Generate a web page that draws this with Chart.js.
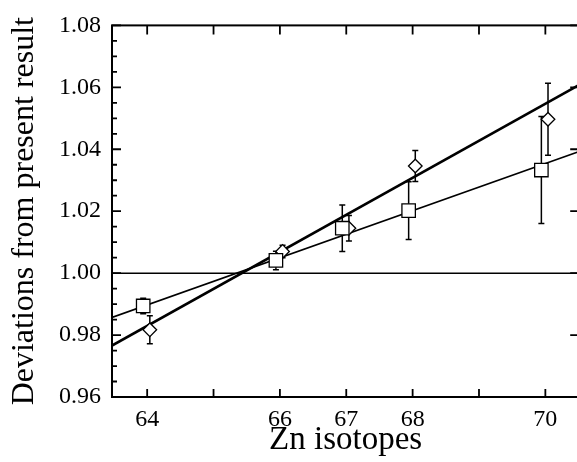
<!DOCTYPE html>
<html>
<head>
<meta charset="utf-8">
<script src="https://cdn.jsdelivr.net/npm/chart.js@4/dist/chart.umd.min.js"></script>
<style>
  html, body { margin: 0; padding: 0; background: #fff; overflow: hidden; }
  #wrap { width: 590px; height: 462px; }
</style>
</head>
<body>
<div id="wrap"><canvas id="c" width="590" height="462"></canvas></div>
<script>
// Zn isotope mass numbers and tick marks on the x axis
const isotopes = [64, 66, 67, 68, 70];
const xTickValues = [64, 65, 66, 67, 68, 69, 70];
const yTickValues = [0.96, 0.98, 1.00, 1.02, 1.04, 1.06, 1.08];

// Squares: deviation ratios and their uncertainties
const squareValues = [0.9894, 1.0041, 1.0145, 1.0202, 1.0333];
const squareErrors = [0.0025, 0.0030, 0.0075, 0.0093, 0.0173];
// Diamonds: deviation ratios and their uncertainties
const diamondValues = [0.9817, 1.0070, 1.0145, 1.0346, 1.0497];
const diamondErrors = [0.0045, 0.0020, 0.0041, 0.0050, 0.0116];

// small horizontal dodge so the two series do not overlap
const squareDodge = -0.06;
const diamondDodge = 0.04;

// axis range
const xRange = [63.47, 70.51];
const yRange = [0.96, 1.08];

// straight-line fits through each series (end points at the axis limits)
const squareFit = [0.9857, 1.0393];
const diamondFit = [0.9766, 1.0608];
const unity = 1.00;

const serif = "'Liberation Serif', 'Times New Roman', serif";

const squarePts = isotopes.map((m, i) => ({ x: m + squareDodge, y: squareValues[i], e: squareErrors[i] }));
const diamondPts = isotopes.map((m, i) => ({ x: m + diamondDodge, y: diamondValues[i], e: diamondErrors[i] }));

// error bars under the markers
const errorBars = {
  id: 'errorBars',
  beforeDatasetsDraw(chart) {
    const ctx = chart.ctx, xs = chart.scales.x, ys = chart.scales.y;
    ctx.save();
    ctx.strokeStyle = '#000';
    ctx.lineWidth = 1.5;
    [0, 1].forEach(di => {
      chart.data.datasets[di].data.forEach(p => {
        const x = xs.getPixelForValue(p.x);
        const yt = ys.getPixelForValue(p.y + p.e);
        const yb = ys.getPixelForValue(p.y - p.e);
        ctx.beginPath();
        ctx.moveTo(x, yt); ctx.lineTo(x, yb);
        ctx.moveTo(x - 3, yt); ctx.lineTo(x + 3, yt);
        ctx.moveTo(x - 3, yb); ctx.lineTo(x + 3, yb);
        ctx.stroke();
      });
    });
    ctx.restore();
  }
};

// boxed frame with inward tick marks on all four sides
const frame = {
  id: 'frame',
  afterDraw(chart) {
    const ctx = chart.ctx, xs = chart.scales.x, ys = chart.scales.y;
    const a = chart.chartArea;
    ctx.save();
    ctx.strokeStyle = '#000';
    ctx.lineWidth = 2;
    ctx.strokeRect(a.left, a.top, a.right - a.left, a.bottom - a.top);
    ctx.lineWidth = 1.8;
    ctx.beginPath();
    xTickValues.forEach(v => {
      const x = xs.getPixelForValue(v);
      ctx.moveTo(x, a.bottom); ctx.lineTo(x, a.bottom - 8);
      ctx.moveTo(x, a.top); ctx.lineTo(x, a.top + 9);
    });
    yTickValues.forEach((v, i) => {
      const y = ys.getPixelForValue(v);
      ctx.moveTo(a.left, y); ctx.lineTo(a.left + 9, y);
      ctx.moveTo(a.right, y); ctx.lineTo(a.right - 9, y);
      if (i < yTickValues.length - 1) {
        for (let k = 1; k < 4; k++) {
          const ym = ys.getPixelForValue(v + k * 0.005);
          ctx.moveTo(a.left, ym); ctx.lineTo(a.left + 5, ym);
        }
      }
    });
    ctx.stroke();
    ctx.restore();
  }
};

new Chart(document.getElementById('c'), {
  type: 'scatter',
  data: {
    datasets: [
      {
        label: 'squares',
        data: squarePts,
        pointStyle: 'rect',
        pointRadius: 9.5,
        pointBackgroundColor: '#fff',
        pointBorderColor: '#000',
        pointBorderWidth: 1.3,
        showLine: false
      },
      {
        label: 'diamonds',
        data: diamondPts,
        pointStyle: 'rectRot',
        pointRadius: 6.8,
        pointBackgroundColor: '#fff',
        pointBorderColor: '#000',
        pointBorderWidth: 1.3,
        showLine: false
      },
      {
        label: 'square fit',
        data: [{ x: xRange[0], y: squareFit[0] }, { x: xRange[1], y: squareFit[1] }],
        showLine: true, pointRadius: 0, borderColor: '#000', borderWidth: 1.6
      },
      {
        label: 'diamond fit',
        data: [{ x: xRange[0], y: diamondFit[0] }, { x: xRange[1], y: diamondFit[1] }],
        showLine: true, pointRadius: 0, borderColor: '#000', borderWidth: 2.6
      },
      {
        label: 'unity',
        data: [{ x: xRange[0], y: unity }, { x: xRange[1], y: unity }],
        showLine: true, pointRadius: 0, borderColor: '#000', borderWidth: 1.5
      }
    ]
  },
  options: {
    responsive: false,
    animation: false,
    events: [],
    layout: { padding: { top: 22, right: 6, left: 0, bottom: 0 } },
    plugins: { legend: { display: false }, tooltip: { enabled: false } },
    scales: {
      x: {
        type: 'linear',
        min: xRange[0], max: xRange[1],
        grid: { display: false, drawTicks: false },
        border: { display: false },
        afterBuildTicks: s => { s.ticks = xTickValues.map(v => ({ value: v })); },
        afterFit: s => { s.height = 65; },
        ticks: {
          color: '#000',
          padding: 8,
          maxRotation: 0,
          autoSkip: false,
          font: { family: serif, size: 24 },
          callback: v => (isotopes.includes(v) ? String(v) : '')
        },
        title: {
          display: true,
          text: 'Zn isotopes',
          color: '#000',
          font: { family: serif, size: 33, lineHeight: 1 },
          padding: { top: 0, bottom: 5 }
        }
      },
      y: {
        type: 'linear',
        min: yRange[0], max: yRange[1],
        grid: { display: false, drawTicks: false },
        border: { display: false },
        afterBuildTicks: s => { s.ticks = yTickValues.map(v => ({ value: v })); },
        afterFit: s => { s.width = 112; },
        ticks: {
          color: '#000',
          padding: 11,
          font: { family: serif, size: 24 },
          callback: v => v.toFixed(2)
        },
        title: {
          display: true,
          text: 'Deviations from present result',
          color: '#000',
          font: { family: serif, size: 32, lineHeight: 1 },
          padding: { top: 9, bottom: 0 }
        }
      }
    }
  },
  plugins: [errorBars, frame]
});
</script>
</body>
</html>
